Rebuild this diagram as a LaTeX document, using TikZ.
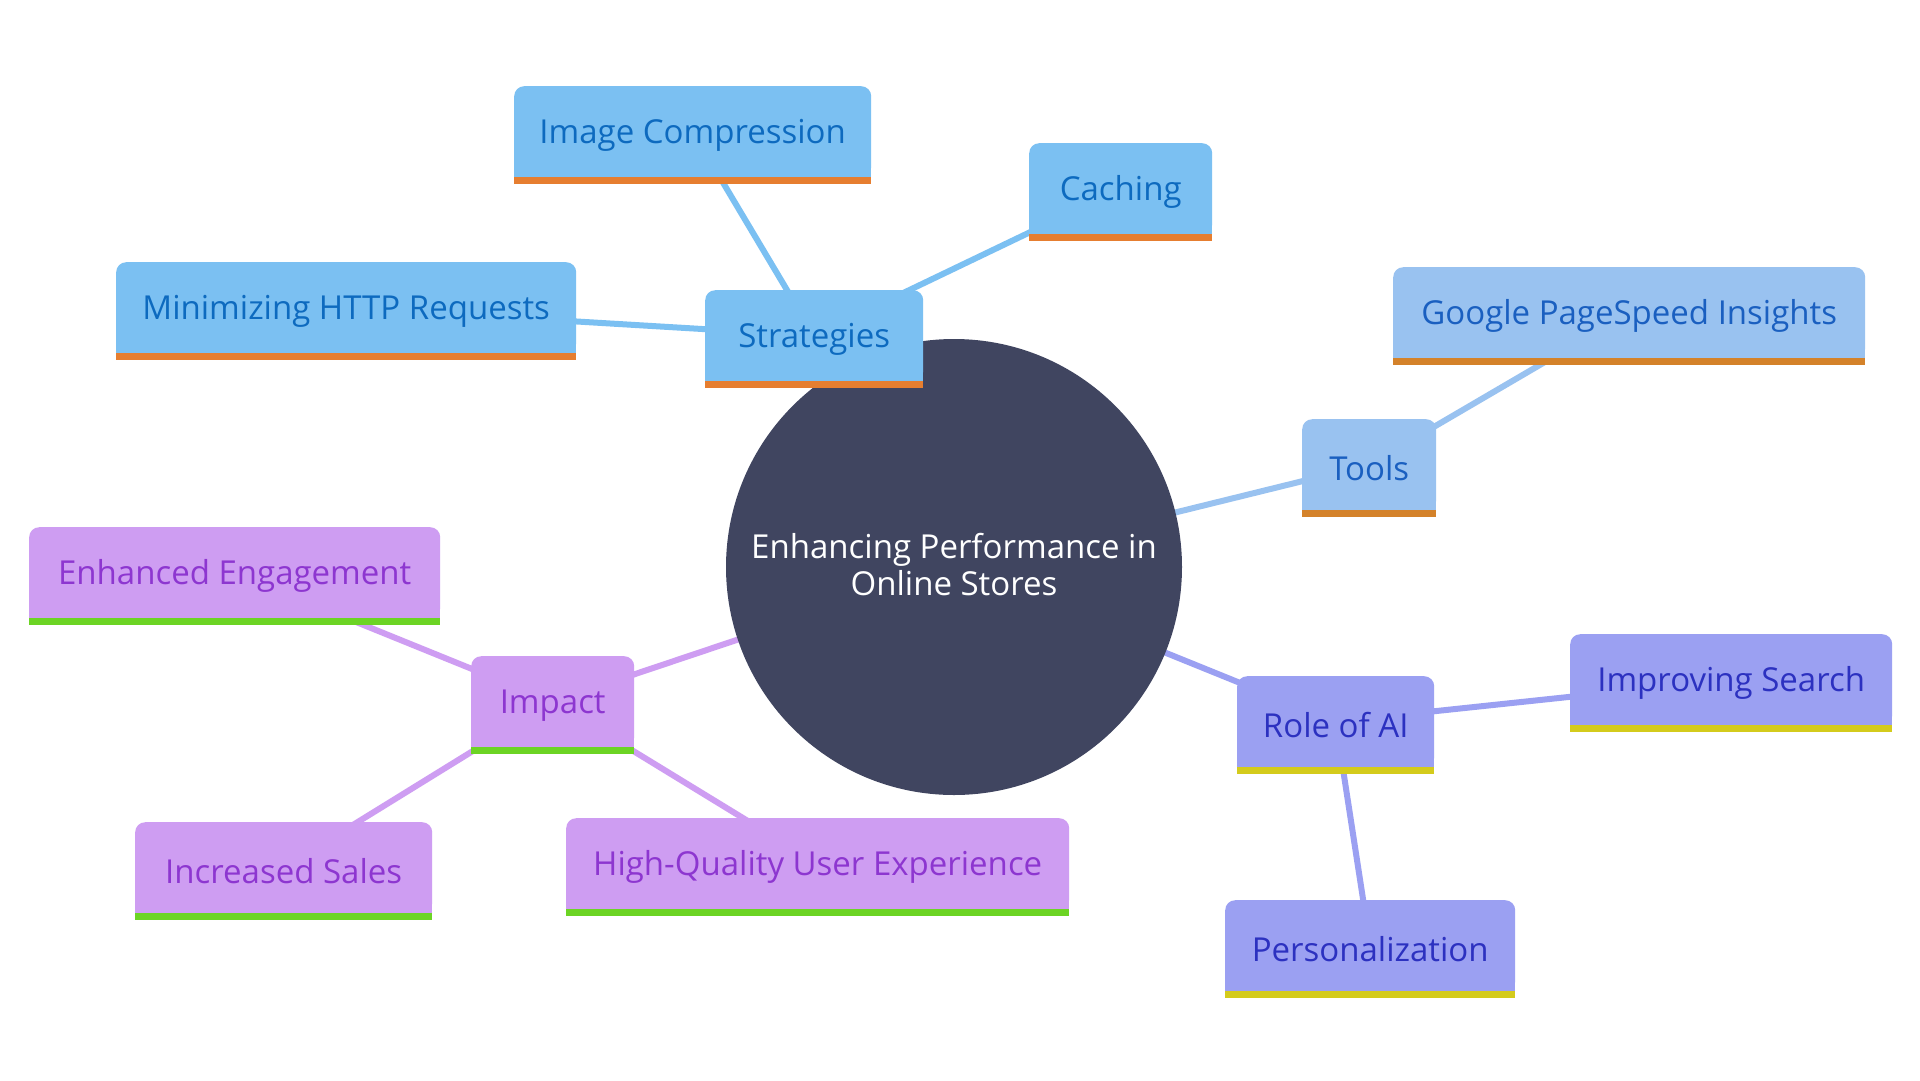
\documentclass[tikz,border=0pt]{standalone}
\usepackage{fontspec}
\setmainfont{Open Sans}
\usetikzlibrary{backgrounds}
\definecolor{sfill}{HTML}{7BC0F2}\definecolor{stext}{HTML}{0D6ABF}\definecolor{sbar}{HTML}{E67E30}
\definecolor{tfill}{HTML}{99C2F0}\definecolor{ttext}{HTML}{1A5FC0}\definecolor{tbar}{HTML}{D4822A}
\definecolor{afill}{HTML}{9BA0F2}\definecolor{atext}{HTML}{2C31C0}\definecolor{abar}{HTML}{D4CB1C}
\definecolor{ifill}{HTML}{CE9DF2}\definecolor{itext}{HTML}{8D36D0}\definecolor{ibar}{HTML}{6CD424}
\definecolor{core}{HTML}{404560}
\newcommand\barit[3]{\fill[#2] (#1.south west) rectangle ([yshift=12pt]#1.south east);
  \fill[#3] (#1.south west) rectangle ([yshift=-7pt]#1.south east);}
\newcommand\lbl[1]{\raisebox{-3.5pt}[\height][\depth]{#1}}
\tikzset{
  box/.style={rounded corners=10pt, inner sep=0pt, minimum height=91pt, anchor=north west,
    font=\fontsize{33}{40}\selectfont},
  sbox/.style={box, fill=sfill, text=stext},
  tbox/.style={box, fill=tfill, text=ttext},
  abox/.style={box, fill=afill, text=atext},
  ibox/.style={box, fill=ifill, text=itext},
  edge/.style={line width=6pt},
}
\begin{document}
\begin{tikzpicture}[x=1pt,y=-1pt]
\useasboundingbox (0,0) rectangle (1920,1080);
\node[circle, fill=core, minimum size=456pt, inner sep=0pt, text=white, align=center,
  font=\fontsize{33}{37}\selectfont] (root) at (954,567)
  {\raisebox{2.5pt}[\height][\depth]{Enhancing Performance in}\\\raisebox{2.5pt}[\height][\depth]{Online Stores}};
% strategies
\node[sbox, minimum width=218pt] (strat) at (705,290) {\lbl{Strategies}};
\node[sbox, minimum width=357pt] (img) at (514,86) {\lbl{Image Compression}};
\node[sbox, minimum width=183pt] (cach) at (1029,143) {\lbl{Caching}};
\node[sbox, minimum width=460pt] (http) at (116,262) {\lbl{Minimizing HTTP Requests}};
% tools
\node[tbox, minimum width=134pt] (tools) at (1302,419) {\lbl{Tools}};
\node[tbox, minimum width=472pt] (gps) at (1393,267) {\lbl{Google PageSpeed Insights}};
% ai
\node[abox, minimum width=197pt] (ai) at (1237,676) {\lbl{Role of AI}};
\node[abox, minimum width=322pt] (search) at (1570,634) {\lbl{Improving Search}};
\node[abox, minimum width=290pt] (pers) at (1225,900) {\lbl{Personalization}};
% impact
\node[ibox, minimum width=163pt] (impact) at (471,656) {\lbl{Impact}};
\node[ibox, minimum width=411pt] (eng) at (29,527) {\lbl{Enhanced Engagement}};
\node[ibox, minimum width=297pt] (sales) at (135,822) {\lbl{Increased Sales}};
\node[ibox, minimum width=503pt] (hq) at (566,818) {\lbl{High-Quality User Experience}};
\barit{strat}{sfill}{sbar}\barit{img}{sfill}{sbar}\barit{cach}{sfill}{sbar}\barit{http}{sfill}{sbar}
\barit{tools}{tfill}{tbar}\barit{gps}{tfill}{tbar}
\barit{ai}{afill}{abar}\barit{search}{afill}{abar}\barit{pers}{afill}{abar}
\barit{impact}{ifill}{ibar}\barit{eng}{ifill}{ibar}\barit{sales}{ifill}{ibar}\barit{hq}{ifill}{ibar}
\begin{scope}[on background layer]
\fill[white] (0,0) rectangle (1920,1080);
\draw[edge, sfill] (root.center) -- (strat.center);
\draw[edge, sfill] (strat.center) -- (img.center);
\draw[edge, sfill] (strat.center) -- (cach.center);
\draw[edge, sfill] (strat.center) -- (http.center);
\draw[edge, tfill] (root.center) -- (tools.center);
\draw[edge, tfill] (tools.center) -- (gps.center);
\draw[edge, afill] (root.center) -- (ai.center);
\draw[edge, afill] (ai.center) -- (search.center);
\draw[edge, afill] (ai.center) -- (pers.center);
\draw[edge, ifill] (root.center) -- (impact.center);
\draw[edge, ifill] (impact.center) -- (eng.center);
\draw[edge, ifill] (impact.center) -- (sales.center);
\draw[edge, ifill] (impact.center) -- (hq.center);
\end{scope}
\end{tikzpicture}
\end{document}
